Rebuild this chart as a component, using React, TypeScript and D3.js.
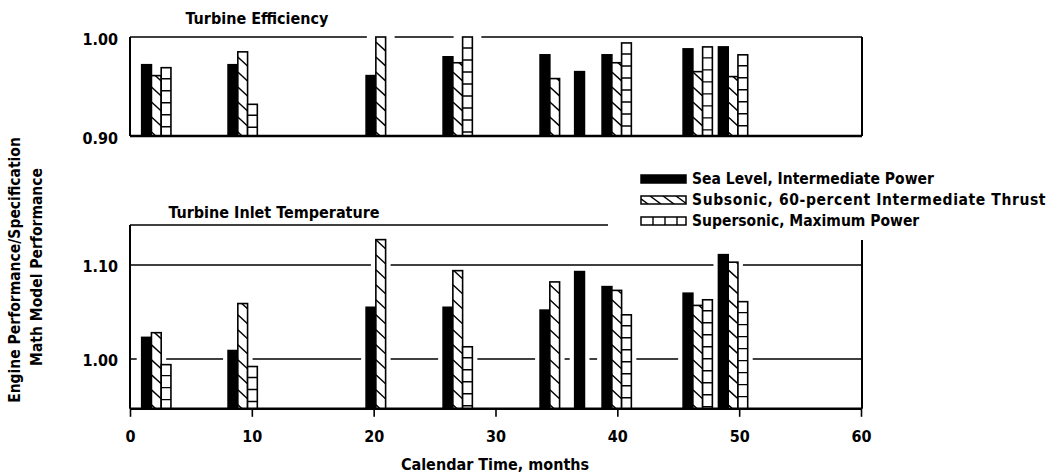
import React, { useEffect, useRef } from "react";
import * as d3 from "d3";

const W = 1057;
const H = 476;

// month at which each test group starts (left edge of its first bar)
const groupMonths = [0.96, 8.05, 19.38, 25.7, 33.66, 36.5, 38.75, 45.4, 48.3];

const seriesNames = [
  "Sea Level, Intermediate Power",
  "Subsonic, 60-percent Intermediate Thrust",
  "Supersonic, Maximum Power",
];

// Turbine efficiency (ratio engine / spec model)
const effSeaLevel = [0.972, 0.972, 0.961, 0.98, 0.982, 0.965, 0.982, 0.988, 0.99];
const effSubsonic = [0.961, 0.985, 1.0, 0.974, 0.958, null, 0.974, 0.965, 0.96];
const effSupersonic = [0.969, 0.932, null, 1.0, null, null, 0.994, 0.99, 0.982];

// Turbine inlet temperature
const titSeaLevel = [1.023, 1.009, 1.055, 1.055, 1.052, 1.093, 1.077, 1.07, 1.111];
const titSubsonic = [1.028, 1.059, 1.127, 1.094, 1.082, null, 1.073, 1.057, 1.103];
const titSupersonic = [0.994, 0.992, null, 1.013, null, null, 1.047, 1.063, 1.061];

const xTicks = [0, 10, 20, 30, 40, 50, 60];
const effTicks = [0.9, 1.0];
const titTicks = [1.0, 1.1];

const FONT = '"DejaVu Sans Condensed", "Liberation Sans Narrow", "DejaVu Sans", sans-serif';
const BAR_MONTHS = 0.8;

export default function App() {
  const svgRef = useRef(null);

  useEffect(() => {
    const svg = d3.select(svgRef.current);
    svg.selectAll("*").remove();

    const x = d3.scaleLinear().domain([0, 60]).range([130, 861]);
    const yEff = d3.scaleLinear().domain([0.9, 1.0]).range([136, 37]);
    const yTit = d3.scaleLinear().domain([1.0, 1.1]).range([359, 265]);
    const titBase = 0.947;
    const titTop = 1.1426;
    const left = x(0);
    const right = x(60) + 1;

    const defs = svg.append("defs");
    let clipId = 0;

    const line = (g, x1, y1, x2, y2, w = 1.6) =>
      g.append("line")
        .attr("x1", x1).attr("y1", y1).attr("x2", x2).attr("y2", y2)
        .attr("stroke", "#000").attr("stroke-width", w);

    const drawBars = (g, y, base, series, pad) => {
      const bars = [];
      groupMonths.forEach((m, i) => {
        series.forEach((vals, k) => {
          const v = vals[i];
          if (v == null) return;
          const x0 = x(m + k * BAR_MONTHS);
          const x1 = x(m + (k + 1) * BAR_MONTHS);
          bars.push({ k, v, x0, x1 });
        });
      });

      // white masks: break the gridlines where a bar crosses them
      g.selectAll(".mask")
        .data(bars)
        .enter()
        .append("rect")
        .attr("x", (d) => d.x0 - pad)
        .attr("y", (d) => y(d.v) - 2)
        .attr("width", (d) => d.x1 - d.x0 + 2 * pad)
        .attr("height", (d) => y(base) - y(d.v) + 2)
        .attr("fill", "#fff");

      bars.forEach((d) => {
        const top = y(d.v);
        const bottom = y(base);
        const id = `clip-bar-${clipId++}`;
        defs.append("clipPath").attr("id", id)
          .append("rect")
          .attr("x", d.x0).attr("y", top)
          .attr("width", d.x1 - d.x0).attr("height", bottom - top);

        g.append("rect")
          .attr("x", d.x0).attr("y", top)
          .attr("width", d.x1 - d.x0).attr("height", bottom - top)
          .attr("fill", d.k === 0 ? "#000" : "#fff");

        const pat = g.append("g").attr("clip-path", `url(#${id})`);
        if (d.k === 1) {
          for (let yy = bottom - 4; yy > top - 12; yy -= 15) {
            line(pat, d.x0, yy, d.x1, yy + 9, 1.5);
          }
        } else if (d.k === 2) {
          for (let yy = top + 11; yy < bottom; yy += 12) {
            line(pat, d.x0, yy, d.x1, yy, 1.4);
          }
        }

        g.append("rect")
          .attr("x", d.x0).attr("y", top)
          .attr("width", d.x1 - d.x0).attr("height", bottom - top)
          .attr("fill", "none")
          .attr("stroke", "#000")
          .attr("stroke-width", 1.6);
      });
    };

    const label = (sel, size = 16) =>
      sel.attr("font-family", FONT).attr("font-size", size).attr("font-weight", "bold").attr("fill", "#000");

    // ---- top panel: turbine efficiency ----
    const top = svg.append("g");
    line(top, left, yEff(1.0), right, yEff(1.0));
    drawBars(top, yEff, 0.9, [effSeaLevel, effSubsonic, effSupersonic], 9);
    line(top, left, yEff(1.0), left, yEff(0.9), 2);
    line(top, right, yEff(1.0), right, yEff(0.9), 2);
    line(top, left, yEff(0.9), right, yEff(0.9), 2.6);

    top.append("g")
      .attr("transform", `translate(${left},2)`)
      .call(d3.axisLeft(yEff).tickValues(effTicks).tickSize(0).tickPadding(12).tickFormat(d3.format(".2f")))
      .call((a) => a.select(".domain").remove())
      .selectAll("text")
      .call(label);

    label(top.append("text"))
      .attr("x", 257).attr("y", 18)
      .attr("text-anchor", "middle").attr("dominant-baseline", "central")
      .text("Turbine Efficiency");

    // ---- bottom panel: turbine inlet temperature ----
    const bot = svg.append("g");
    titTicks.forEach((t) => line(bot, left, yTit(t), right, yTit(t), 1.5));
    line(bot, left, yTit(titTop), 608, yTit(titTop), 1.6);
    drawBars(bot, yTit, titBase, [titSeaLevel, titSubsonic, titSupersonic], 5);
    line(bot, left, yTit(titTop), left, yTit(titBase), 2);
    line(bot, right, 240, right, yTit(titBase), 2);

    bot.append("g")
      .attr("transform", `translate(0,${yTit(titBase)})`)
      .call(d3.axisBottom(x).tickValues(xTicks).tickSize(8).tickPadding(14).tickFormat(d3.format("d")))
      .call((a) => a.select(".domain").remove())
      .call((a) => a.selectAll("line").attr("stroke", "#000").attr("stroke-width", 1.6))
      .selectAll("text")
      .call(label);
    line(bot, left, yTit(titBase), right, yTit(titBase), 2.6);

    bot.append("g")
      .attr("transform", `translate(${left},1)`)
      .call(d3.axisLeft(yTit).tickValues(titTicks).tickSize(0).tickPadding(12).tickFormat(d3.format(".2f")))
      .call((a) => a.select(".domain").remove())
      .selectAll("text")
      .call(label);

    label(bot.append("text"))
      .attr("x", 274).attr("y", 212)
      .attr("text-anchor", "middle").attr("dominant-baseline", "central")
      .text("Turbine Inlet Temperature");

    label(svg.append("text"))
      .attr("x", 495).attr("y", 464)
      .attr("text-anchor", "middle").attr("dominant-baseline", "central")
      .text("Calendar Time, months");

    // y axis title, two lines
    ["Engine Performance/Specification", "Math Model Performance"].forEach((t, i) => {
      label(svg.append("text"), 15.5)
        .attr("transform", `translate(${15 + i * 22},${270 - i * 3}) rotate(-90)`)
        .attr("text-anchor", "middle").attr("dominant-baseline", "central")
        .text(t);
    });

    // ---- legend ----
    const leg = svg.append("g");
    const legY = [179, 200, 221];
    const sx0 = 641;
    const sx1 = 686;
    seriesNames.forEach((name, k) => {
      const cy = legY[k];
      const r0 = cy - 4;
      const r1 = cy + 4;
      leg.append("rect")
        .attr("x", sx0).attr("y", r0).attr("width", sx1 - sx0).attr("height", r1 - r0)
        .attr("fill", k === 0 ? "#000" : "#fff")
        .attr("stroke", "#000").attr("stroke-width", 1.5);
      if (k === 1) {
        const id = "clip-leg";
        defs.append("clipPath").attr("id", id)
          .append("rect").attr("x", sx0).attr("y", r0).attr("width", sx1 - sx0).attr("height", r1 - r0);
        const pg = leg.append("g").attr("clip-path", `url(#${id})`);
        for (let xx = sx0 - 4; xx < sx1; xx += 13) line(pg, xx, r0, xx + 11, r1, 1.4);
      } else if (k === 2) {
        for (let xx = sx0 + 12; xx < sx1; xx += 12) line(leg, xx, r0, xx, r1, 1.4);
      }
      label(leg.append("text"), 15.5)
        .attr("x", 692).attr("y", cy)
        .attr("dominant-baseline", "central")
        .attr("letter-spacing", k === 1 ? 0.6 : 0)
        .text(name);
    });
  }, []);

  return (
    <svg
      ref={svgRef}
      width={W}
      height={H}
      style={{ position: "absolute", left: 0, top: 0, background: "#fff" }}
    />
  );
}
